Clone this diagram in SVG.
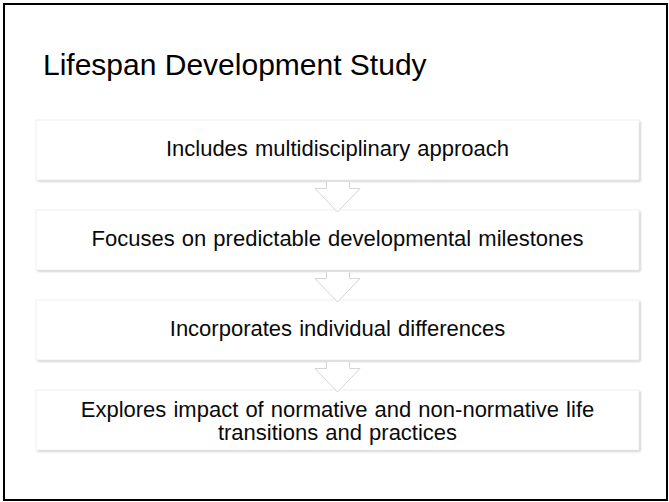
<svg xmlns="http://www.w3.org/2000/svg" width="669" height="502" viewBox="0 0 669 502">
  <defs>
    <style>
      .frame { fill: #ffffff; stroke: #000000; stroke-width: 2; }
      .shadow { fill: #c4c4c4; filter: url(#soft); }
      .box { fill: #ffffff; stroke: #f0f0f0; stroke-width: 1; }
      .arrow { fill: #ffffff; stroke: #d6d6d6; stroke-width: 1; }
      .title { font-family: "Liberation Sans", Arial, sans-serif; font-size: 30px; fill: #000000; }
      .label { font-family: "Liberation Sans", Arial, sans-serif; font-size: 22px; fill: #0a0a0a; text-anchor: middle; word-spacing: 1px; }
    </style>
    <filter id="soft" x="-5%" y="-20%" width="110%" height="140%">
      <feGaussianBlur stdDeviation="0.8"/>
    </filter>
  </defs>

  <!-- outer slide frame -->
  <rect class="frame" x="4" y="4" width="663" height="496"/>

  <text class="title" x="43" y="75">Lifespan Development Study</text>

  <!-- process steps -->
  <g id="step1">
    <rect class="shadow" x="37.5" y="121.5" width="603" height="60"/>
    <rect class="box" x="36" y="120" width="603" height="60"/>
    <text class="label" x="337.5" y="156">Includes multidisciplinary approach</text>
  </g>
  <g id="step2">
    <rect class="shadow" x="37.5" y="211.5" width="603" height="60"/>
    <rect class="box" x="36" y="210" width="603" height="60"/>
    <text class="label" x="337.5" y="246">Focuses on predictable developmental milestones</text>
  </g>
  <g id="step3">
    <rect class="shadow" x="37.5" y="301.5" width="603" height="60"/>
    <rect class="box" x="36" y="300" width="603" height="60"/>
    <text class="label" x="337.5" y="336">Incorporates individual differences</text>
  </g>
  <g id="step4">
    <rect class="shadow" x="37.5" y="391.5" width="603" height="60"/>
    <rect class="box" x="36" y="390" width="603" height="60"/>
    <text class="label" x="337.5" y="417">Explores impact of normative and non-normative life</text>
    <text class="label" x="337.5" y="440">transitions and practices</text>
  </g>

  <!-- down-arrow connectors between steps -->
  <g id="connectors">
    <path class="arrow" d="M326.5,182 V188.5 H315 L337.5,212 L360,188.5 H349.5 V182"/>
    <path class="arrow" d="M326.5,272 V278.5 H315 L337.5,302 L360,278.5 H349.5 V272"/>
    <path class="arrow" d="M326.5,362 V368.5 H315 L337.5,392 L360,368.5 H349.5 V362"/>
  </g>
</svg>
